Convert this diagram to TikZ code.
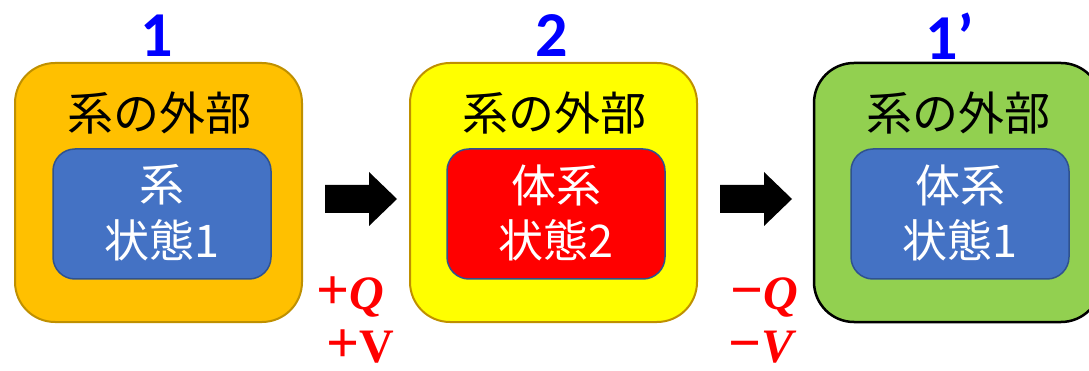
\documentclass[tikz,border=0pt]{standalone}
\usepackage{fontspec}
\setmainfont{Liberation Serif}
\newfontfamily\jpfont{Noto Sans CJK JP}
\newfontfamily\lblfont{Carlito}
\definecolor{orangefill}{HTML}{FFC000}
\definecolor{goldborder}{HTML}{BF9000}
\definecolor{yellowfill}{HTML}{FFFF00}
\definecolor{greenfill}{HTML}{92D050}
\definecolor{bluefill}{HTML}{4472C4}
\definecolor{blueborder}{HTML}{2F528F}
\definecolor{redfill}{HTML}{FF0000}
\definecolor{labelblue}{HTML}{0000FF}
\newcommand{\bigsign}[1]{{\fontsize{58}{58}\selectfont #1}}
\begin{document}
\begin{tikzpicture}[x=1pt,y=-1pt,
  outerbox/.style={draw, line width=2pt, rounded corners=40pt, minimum width=287pt, minimum height=259pt, inner sep=0pt},
  innerbox/.style={draw=blueborder, line width=1.5pt, rounded corners=22pt, minimum width=218pt, minimum height=130pt, inner sep=0pt},
  jptext/.style={font=\jpfont\fontsize{46}{52}\selectfont, inner sep=0pt},
  jpinner/.style={font=\jpfont\fontsize{45}{52}\selectfont, inner sep=0pt, text=white},
  toplabel/.style={text=labelblue, font=\lblfont\bfseries\fontsize{64}{70}\selectfont, inner sep=0pt},
  qvlabel/.style={text=red, font=\fontsize{48}{52}\selectfont\bfseries, anchor=base, inner sep=0pt},
  blockarrow/.style={fill=black}
]
\useasboundingbox (0,0) rectangle (1089,371);
\clip (0,0) rectangle (1089,371);

% box 1
\node[outerbox, fill=orangefill, draw=goldborder] (o1) at (158.5,192.5) {};
\node[innerbox, fill=bluefill] (i1) at (162,214) {};
\node[jptext] (t1) at (159,113) {系の外部};
\node[jpinner] (s1a) at (162,185) {系};
\node[jpinner] (s1b) at (162,240) {状態1};
\node[toplabel] (l1) at (157,36) {1};

% box 2
\node[outerbox, fill=yellowfill, draw=goldborder] (o2) at (553.5,192.5) {};
\node[innerbox, fill=redfill] (i2) at (556,214) {};
\node[jptext] (t2) at (554,113) {系の外部};
\node[jpinner] (s2a) at (556,185) {体系};
\node[jpinner] (s2b) at (556,240) {状態2};
\node[toplabel] (l2) at (552,36) {2};

% box 3
\node[outerbox, fill=greenfill, draw=black, line width=2.5pt] (o3) at (957.5,192.5) {};
\node[innerbox, fill=bluefill] (i3) at (960,214) {};
\node[jptext] (t3) at (958,113) {系の外部};
\node[jpinner] (s3a) at (960,185) {体系};
\node[jpinner] (s3b) at (960,240) {状態1};
\node[toplabel] (l3) at (950,36) {1’};

% block arrows
\coordinate (a1) at (325,199);
\fill[blockarrow] (a1) ++(0,-14) -- ++(44,0) -- ++(0,-13) -- ++(28,27) -- ++(-28,27) -- ++(0,-13) -- ++(-44,0) -- cycle;
\coordinate (a2) at (720,199);
\fill[blockarrow] (a2) ++(0,-14) -- ++(44,0) -- ++(0,-13) -- ++(28,27) -- ++(-28,27) -- ++(0,-13) -- ++(-44,0) -- cycle;

% labels
\node[qvlabel] (pq) at (350,309) {\bigsign{+}\textit{Q}};
\node[qvlabel] (pv) at (360,362) {\bigsign{+}V};
\node[qvlabel] (mq) at (764,309) {\bigsign{−}\textit{Q}};
\node[qvlabel] (mv) at (763,362) {\bigsign{−}\textit{V}};
\end{tikzpicture}
\end{document}
